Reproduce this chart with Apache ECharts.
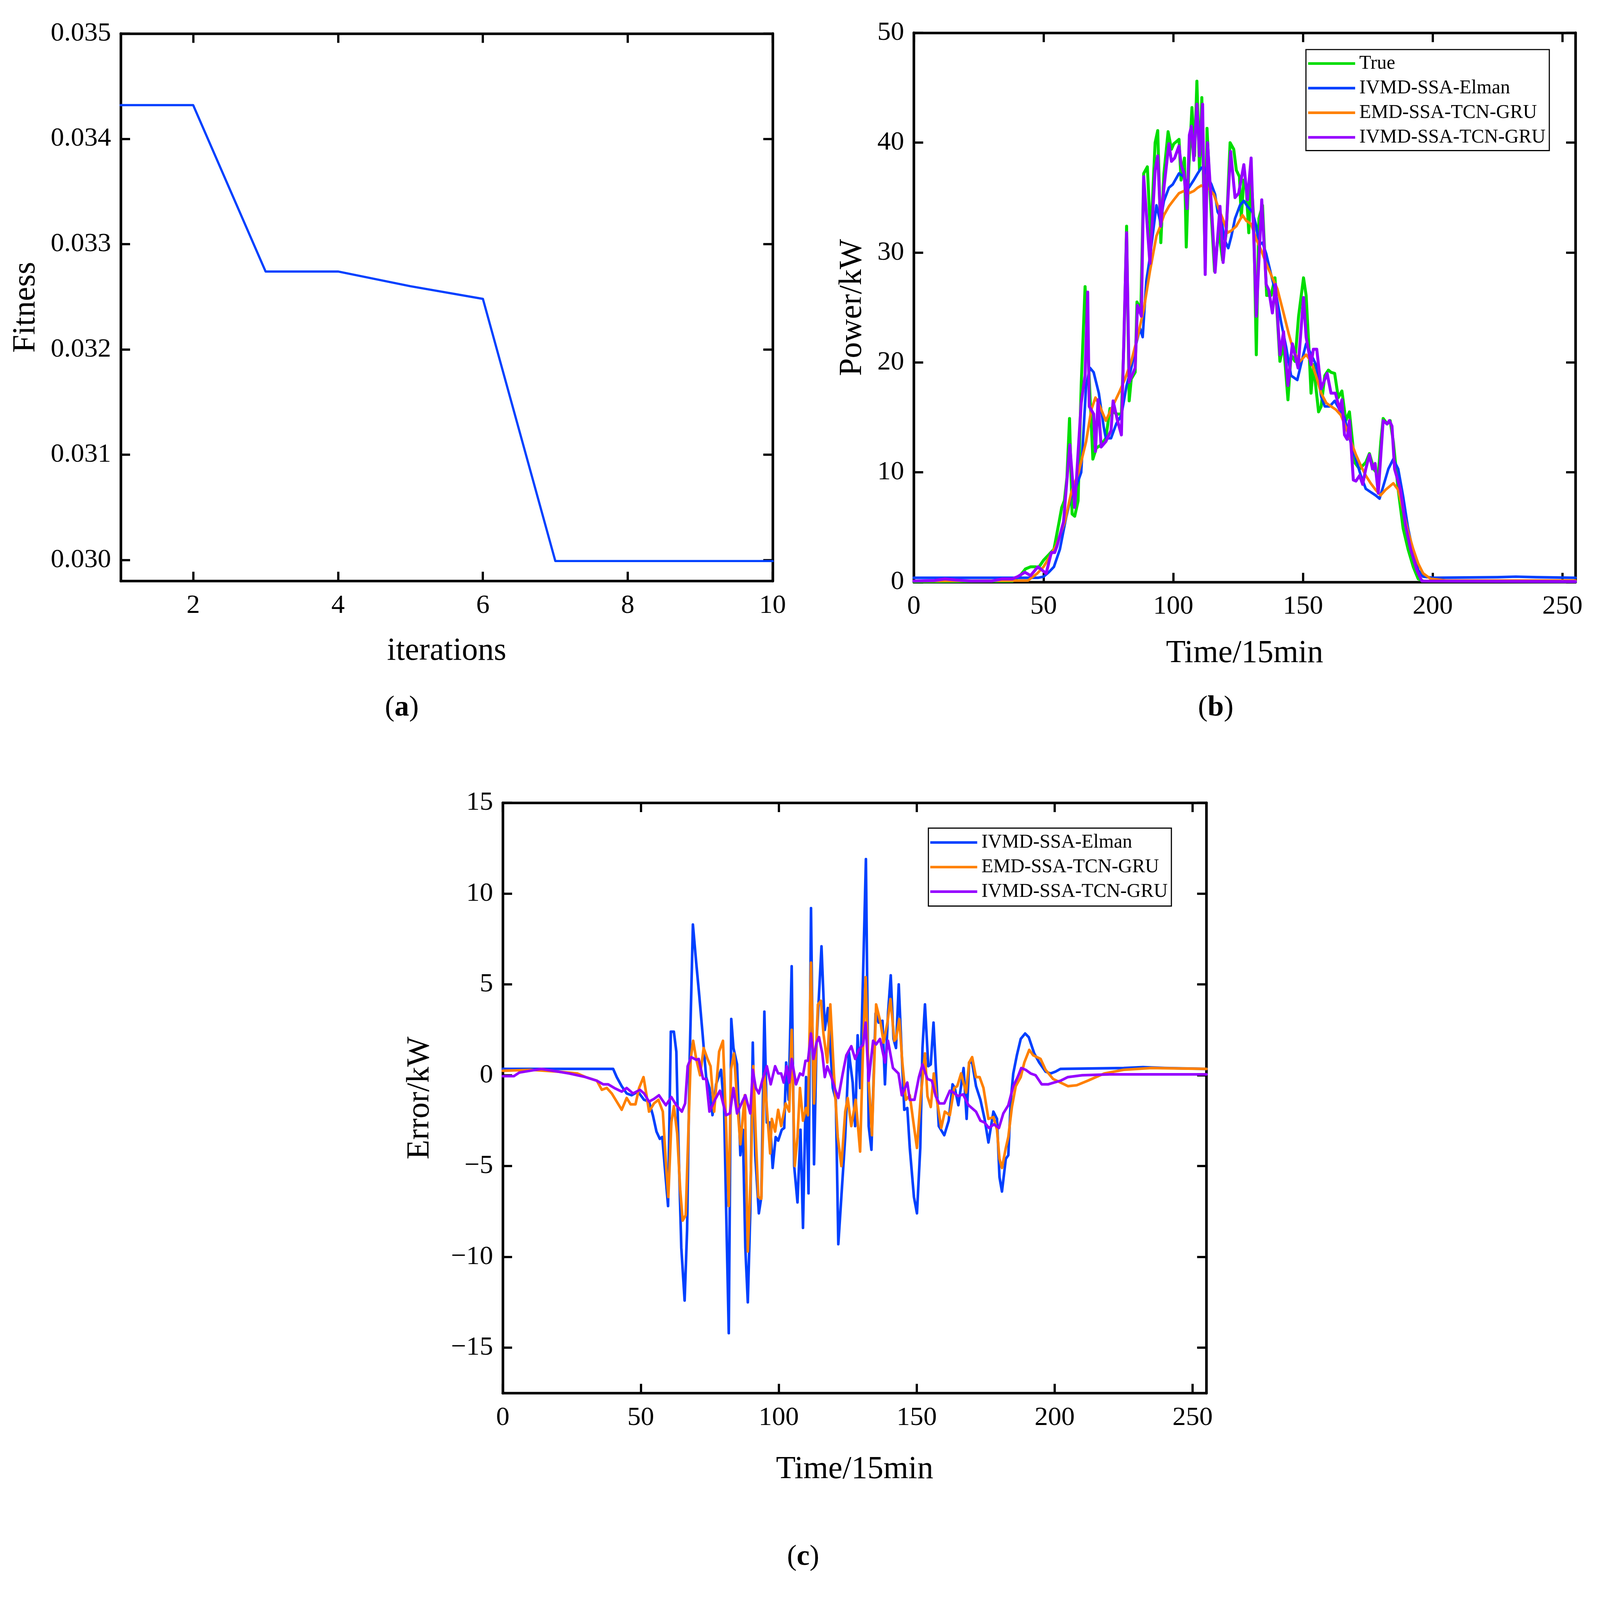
<!DOCTYPE html>
<html>
<head>
<meta charset="utf-8" />
<title>Fitness / Power / Error</title>
<script src="https://cdn.jsdelivr.net/npm/echarts@6/dist/echarts.min.js"></script>
<style type="text/css">
	html, body { margin: 0; padding: 0; background: #ffffff; overflow: hidden; }
	#chart { width: 4293px; height: 4239px; }
</style>
</head>
<body>
<div id="chart"></div>
<script type="text/javascript">
	// (a) fitness curve
	var iterations = [1, 2, 3, 4, 5, 6, 7, 8, 9, 10];
	var fitness = [0.03432, 0.03432, 0.03274, 0.03274, 0.03260, 0.03248, 0.02999, 0.02999, 0.02999, 0.02999];
	var fitnessTicks = [0.030, 0.031, 0.032, 0.033, 0.034, 0.035];
	var iterTicks = [2, 4, 6, 8, 10];

	// (b) power, [time, kW]
	var truePower = [[0,0.05],[38,0.1],[41,0.6],[43,1.2],[45,1.4],[47,1.4],[48,1.3],[50,2.0],[52,2.5],[54,3.0],[56,5.5],[57,6.8],[58,7.4],[59,9.5],[60,14.9],[61,6.2],[62,6.0],[63.3,7.4],[64.5,17.9],[66,26.9],[69,11.2],[70.3,12.2],[72.2,12.5],[74,13.1],[75.6,15.8],[78,15.3],[80,15.3],[81,22],[82,32.4],[83,16.5],[83.8,18.5],[85.3,19.1],[86,25.5],[87.5,24.8],[88.6,37.2],[90,37.8],[91.3,31.2],[93,40],[94,41.1],[95.2,30.9],[96.4,37.2],[98,41],[99.3,39.4],[100.2,39.9],[102.2,40.3],[103,36.6],[104.3,38.6],[105,30.5],[106,37.8],[107.2,43.2],[108.2,38.8],[109.1,45.6],[110.1,37.5],[111,44.1],[112.3,28.6],[113,41.3],[114.2,35.3],[115.9,28.3],[117.5,32.1],[119,29.3],[120.4,31.8],[121.9,40],[123.3,39.4],[124.3,37.5],[125.5,36.9],[126.2,33.2],[127.2,36.6],[128.1,35.9],[129.1,31.8],[130,36.9],[131,33.1],[132,20.7],[133,33.1],[134.4,34.3],[136,26.1],[137.7,26.1],[139.2,27.7],[141.1,20.1],[142.5,21.7],[144.2,16.6],[145.4,20.7],[146.9,20.1],[148.3,24.2],[150.2,27.7],[151.2,26.1],[152.2,21.7],[153.1,17.2],[154,19.8],[156,15.5],[157,16],[158.4,18.8],[159.8,19.3],[160.8,19.1],[162.2,19],[163.6,16.8],[165,17.4],[166.5,14.7],[167.9,15.5],[169.9,10.9],[171.8,10.3],[174.2,10.9],[175.6,11.7],[177.3,10.3],[179,9.7],[180,12.8],[180.9,14.9],[182.4,14.4],[183.6,14.7],[184.8,12.8],[186.7,8.4],[188.6,4.9],[190.5,3],[192.5,1.4],[194.4,0.3],[196.3,0.1],[255,0.05]];
	var elmanPower = [[0,0.4],[48,0.4],[50,0.5],[52,0.9],[54,1.4],[56.3,3],[58.7,5.9],[60.6,7.8],[62.6,8.7],[64.5,10],[66.4,17.9],[67.9,19.5],[69.3,19.1],[71.3,17.2],[73.2,14.1],[74,13.1],[76,13.1],[78,14.4],[80,15.2],[82,17.9],[83.8,19.5],[85.7,21.7],[87.2,23.1],[88.2,22.3],[89.6,27.4],[91,29.6],[93.5,34.3],[95,32.8],[96.4,34.7],[98.3,35.9],[99.8,36.2],[102.2,37.2],[104.1,36.9],[106,35.9],[107.9,36.6],[109.4,37.2],[110.8,37.7],[111.8,37.8],[113.2,36.9],[114.7,36.2],[116.1,35.3],[117.1,33.7],[118.5,33.1],[119.7,31.2],[121.2,30.4],[122.4,31.5],[123.8,33.1],[125.7,34.3],[127.2,34.7],[128.6,34.2],[130.5,33.7],[132,32.4],[133,30.7],[134.4,30.9],[135.8,29.9],[137.7,28],[139.7,26.1],[141.6,23.6],[143.5,21.4],[145.4,18.8],[147.8,18.4],[149.8,20.4],[151.2,21.7],[152.6,21],[155,19.8],[157,16.9],[158.4,16],[160.3,16],[162.2,16.5],[164.1,15.7],[166,15],[167.9,13.1],[170.4,11.2],[172.3,9.7],[174.2,8.5],[176.1,8.2],[178,7.9],[179.5,7.6],[180.9,8.7],[182.9,10.3],[184.8,11.2],[186.7,10.3],[188.6,7.8],[190.5,4.9],[192.5,2.7],[194.4,1.1],[196.3,0.5],[200,0.4],[225,0.45],[232,0.5],[240,0.45],[255,0.4]];
	var emdPower = [[0,0.1],[44,0.15],[47.6,0.8],[50,1.4],[54.8,3.3],[58.2,5.5],[60.6,8.1],[63.5,10],[66.4,12.8],[68.4,15.7],[70,16.8],[71.7,16],[74,14.7],[76.6,16],[79,17.2],[81.4,18.5],[83.8,20.1],[86.2,22.3],[88.6,24.8],[91,28.3],[93.5,31.5],[95,32.4],[96.4,33.4],[98.3,34.2],[100.2,34.8],[102.2,35.4],[104.1,35.6],[106,35.4],[107.9,35.6],[109.4,35.9],[110.8,36.1],[112.3,35.9],[113.7,35.8],[115.6,35.3],[117.5,34],[119.5,32.8],[120.9,31.8],[122.4,32],[124.3,32.4],[126.7,33.4],[128.1,32.9],[130,32.6],[132,31.2],[133.9,30.2],[135.8,29],[138.2,27.7],[140.1,26.7],[142.5,24.5],[144.5,22.6],[146.4,21],[148.8,20.1],[151.2,20.7],[153.1,20.1],[155,18.8],[157,17.2],[159,16.3],[160.8,16],[162.7,15.7],[164.6,15.2],[166.5,14.1],[168.5,12.8],[170.4,11.6],[172.3,10.6],[174.2,9.7],[176.1,9],[178,8.4],[179.9,7.9],[181.8,8.4],[184.8,9],[186.7,8.4],[188.6,6.5],[190.5,4.6],[192.5,3],[194.4,1.7],[196.3,0.8],[199.2,0.3],[205,0.15],[255,0.15]];
	var ivmdPower = [[0,0.1],[8,0.15],[12,0.3],[16,0.2],[22,0.1],[30,0.1],[34,0.3],[38,0.3],[40,0.5],[42.8,0.9],[45,0.6],[47.8,1.4],[51,0.8],[53,2.7],[54.3,2.7],[55.2,3.3],[57.7,5.5],[60.1,12.5],[62,6.8],[64.5,16.3],[66,18.8],[67,26.4],[67.6,16],[69.3,15.3],[70,11.9],[71,16.6],[72.2,12.3],[74,12.8],[76,13.8],[76.8,16.5],[78.5,14.7],[80,13.4],[82,31.8],[83,18.2],[85.3,19.5],[86.2,25.2],[87.7,24.2],[88.6,36.9],[91,29],[93,37.5],[94,38.8],[95.2,32.4],[96.4,35.9],[98.3,39.9],[99.3,38.3],[100.5,38.6],[102.2,39.7],[103,38],[104.1,37.2],[105.3,34],[106.2,40.7],[107,41.5],[107.9,38.4],[109.1,43.5],[110.1,38.8],[111.3,43.5],[112.3,28],[113.2,40],[114.7,34.3],[116.1,28.2],[118,34.2],[119.2,29.1],[120.4,32.1],[122.1,39.2],[123.8,35],[125.2,35.4],[127.2,38],[128.6,34.8],[130,38.6],[131,31.5],[132,24.2],[134.1,34.8],[135.8,27.1],[136.8,26.6],[138.2,24.5],[139.4,27.1],[141.1,20.7],[142.5,22.8],[144.2,17.9],[145.9,21.7],[148.1,19.5],[150.2,25.9],[151.2,22.3],[153.1,19.8],[154,21.2],[155.3,21.2],[157,17.6],[159.3,19],[160.8,17.2],[162.5,17.2],[164.1,15.7],[165,16.6],[166,13.4],[167,13],[167.9,14.7],[169.4,9.3],[170.4,9.2],[171.8,9.7],[173,8.9],[174.2,10.3],[175.6,11.6],[176.8,10.3],[177.8,10.8],[179,8.1],[180.9,14.7],[182.4,14.4],[183.3,14.7],[184.3,14.2],[185.3,10.3],[187.6,8.4],[189.5,5.2],[191.5,3],[193.9,1.1],[195.8,0.1],[255,0.05]];
	var powerTicks = [0, 10, 20, 30, 40, 50];
	var timeTicks = [0, 50, 100, 150, 200, 250];

	// (c) error, [time, kW]
	var elmanError = [[0,0.35],[40,0.35],[41.3,-0.1],[43.1,-0.6],[44.9,-1.0],[46.7,-1.1],[49,-0.9],[51.2,-1.35],[53,-1.45],[54.4,-2.2],[55.7,-3.1],[56.9,-3.5],[57.8,-3.4],[58.9,-5.4],[59.9,-7.2],[60.9,2.4],[62,2.4],[62.9,1.3],[63.6,-3.4],[64.7,-9.5],[65.9,-12.4],[66.8,-8.5],[67.7,0.7],[68.9,8.3],[70.1,6.2],[71.2,4.4],[72.4,2.3],[73.7,-0.1],[74.9,-0.7],[76,-2.2],[77.3,-0.5],[79.1,0.3],[80.2,-1.8],[81.1,-8.5],[81.9,-14.2],[82.8,3.1],[83.6,1.5],[84.9,0.6],[86.1,-4.4],[87,-3.0],[87.9,-9.5],[88.8,-12.5],[89.7,-7.5],[90.6,1.8],[91.5,-4.4],[92.8,-7.6],[93.7,-6.7],[94.8,3.5],[95.7,-2.6],[96.9,-2.6],[97.8,-5.1],[98.9,-3.4],[99.8,-3.6],[101.1,-3.0],[102,-2.9],[102.7,0.7],[103.6,-1.35],[104.7,6.0],[105.6,-5.0],[106.8,-7.0],[107.9,-3.0],[108.8,-8.4],[109.9,-0.1],[110.8,-6.5],[111.7,9.2],[112.8,-4.9],[113.7,1.8],[115.5,7.1],[116.7,2.5],[117.8,3.7],[119.6,-0.7],[120.7,-1.35],[121.6,-9.3],[122.7,-6.7],[124.1,-3.4],[125.4,1.3],[126.8,-0.4],[127.7,-2.8],[128.6,2.2],[129.5,-0.7],[130.6,5.7],[131.6,11.9],[132.6,-2.8],[133.6,-4.1],[135.1,3.4],[136.2,2.9],[137.6,3.0],[138.5,-0.5],[139.6,3.4],[140.6,5.5],[141.6,2.0],[142.5,1.5],[143.5,5.0],[144.6,1.1],[145.5,-1.9],[146.6,-1.8],[147.5,-4.0],[149,-6.7],[150.1,-7.6],[151.3,-4.0],[152.1,1.5],[153,3.9],[154.2,0.5],[155.1,0.6],[156.1,2.9],[157.1,-0.1],[158,-2.8],[160,-3.3],[161.6,-2.5],[163,-0.5],[163.8,-0.7],[165.1,-1.65],[167,0.4],[168.1,-2.4],[169,0.7],[170.1,0.7],[171.5,-0.6],[173.1,-1.35],[174.6,-2.4],[176,-3.7],[177.8,-2.0],[179.1,-2.4],[180,-5.6],[180.9,-6.4],[182.3,-4.6],[183.2,-4.4],[184.1,-1.35],[185,0.1],[186.3,1.1],[187.7,2.0],[189.3,2.3],[190.6,2.1],[192.6,1.2],[194.4,0.7],[196.7,0.2],[198.5,0.1],[200.3,0.2],[202.1,0.35],[225,0.4],[232,0.45],[240,0.4],[255,0.35]];
	var emdError = [[0,0.25],[10,0.3],[20,0.2],[27,0.1],[30,-0.1],[34.1,-0.3],[35.9,-0.8],[37.7,-0.7],[39.5,-1.0],[41.3,-1.45],[43.1,-1.9],[44.9,-1.25],[46.3,-1.6],[48.1,-1.6],[49.4,-0.7],[51,-0.1],[52.1,-1.1],[53,-2.0],[54.8,-1.55],[56.4,-1.35],[58,-2.0],[59.1,-4.8],[60,-6.7],[61.1,-2.6],[62,-1.7],[63.2,-3.2],[64.3,-6.3],[65.2,-8.0],[66.3,-7.7],[67.2,-3.4],[68.1,0.9],[69,1.9],[70.1,0.9],[71.5,0],[72.8,1.5],[74.2,0.9],[75.3,0.5],[76.6,-2.0],[78.4,1.3],[79.8,1.9],[80.9,-2.6],[81.9,-7.2],[82.7,0.3],[83.8,1.2],[84.9,-1.35],[86.1,-3.8],[87.7,-1.1],[88.8,-9.7],[89.9,-5.4],[90.8,0.5],[91.7,-3.4],[92.6,-6.7],[93.7,-6.8],[94.8,0.1],[95.7,-1.8],[96.9,-4.3],[97.5,-2.4],[98.7,-3.1],[99.8,-1.9],[100.9,-2.8],[102.5,-1.55],[103.8,-2.0],[104.7,2.5],[105.8,-5.0],[106.8,-3.4],[107.7,-0.7],[108.8,-2.5],[109.9,-1.8],[110.6,-2.2],[111.7,6.2],[112.8,-1.55],[114.2,3.9],[115.3,4.1],[116.2,2.3],[117.6,0.7],[118.7,3.9],[120,0.1],[121.4,-3.4],[122.7,-5.0],[124.1,-2.0],[125,-1.25],[126.3,-2.8],[127.9,-1.35],[129.5,-4.2],[130.4,0.7],[131.5,5.4],[132.6,-0.3],[133.8,-3.3],[135.3,3.9],[136.9,2.9],[138,1.8],[139.4,2.9],[140.5,4.2],[141.9,1.9],[142.5,2.0],[143.7,3.1],[144.8,0.7],[146.1,-1.35],[147.5,-1.1],[149,-2.8],[150.1,-4.0],[151.5,-1.15],[153,1.2],[153.9,-1.15],[155.1,-1.75],[156.2,0.1],[157.3,-1.35],[158.9,-2.9],[160.2,-2.0],[162,-2.2],[163.6,-0.7],[164.7,-0.6],[166.1,0.1],[167.9,-0.95],[169,0.7],[170.1,1.0],[171.5,-0.1],[172.8,-0.1],[174.2,-0.7],[176,-2.4],[177.8,-2.3],[179.1,-3.0],[180,-4.6],[180.9,-5.1],[182.3,-4.0],[183.2,-3.4],[184.5,-1.75],[185.9,-0.6],[187.7,-0.1],[189,0.7],[190.8,1.4],[192.2,1.1],[194.9,0.9],[196.7,0.3],[199.4,-0.2],[202.1,-0.4],[204.8,-0.6],[208,-0.55],[212,-0.3],[218,0.1],[225,0.3],[235,0.4],[255,0.35]];
	var ivmdError = [[0,-0.05],[4,-0.05],[6,0.15],[10,0.25],[14,0.35],[18,0.25],[24,0.1],[30,-0.1],[34.1,-0.3],[36.4,-0.5],[38.2,-0.5],[40.4,-0.7],[43.1,-0.9],[44.9,-0.7],[47.2,-1.0],[49.7,-0.8],[51.2,-1.0],[53,-1.45],[54.8,-1.3],[56.6,-1.1],[59.1,-1.65],[61.1,-1.2],[62.9,-1.65],[64.9,-2.0],[66.1,-1.55],[67,0.5],[68.3,1.0],[70.1,0.85],[71,0.9],[72.6,-0.2],[73.7,-0.2],[74.9,-2.0],[76.9,-1.35],[78.7,-0.85],[80.9,-2.2],[82.3,-2.1],[83.6,-0.7],[84.9,-2.1],[86.8,-1.45],[87.9,-1.1],[89.7,-2.1],[90.6,0.3],[91.7,-0.7],[92.8,-1.0],[94.2,-0.2],[95.7,0.5],[97.1,-0.5],[98.7,0.5],[99.8,0.1],[100.9,0.1],[101.8,-0.4],[102.9,0.5],[103.8,-0.4],[104.7,0.9],[106.3,-0.5],[107.7,0.1],[108.8,0],[109.7,0.8],[110.6,0.8],[111.7,2.3],[112.6,0.9],[113.7,1.8],[114.6,2.1],[115.8,1.2],[116.7,-0.1],[117.6,0.5],[119.1,-0.1],[120.5,-0.8],[121.6,-1.25],[123.2,0.1],[124.5,1.1],[126.3,1.6],[127.7,0.9],[129,1.4],[130.6,1.7],[131.5,2.9],[132.6,-0.3],[134.2,1.9],[135.3,1.7],[136.7,2.0],[138.5,0.7],[139.6,1.9],[141.4,0.4],[143.4,0.1],[144.6,-1.1],[146.6,-0.4],[147.5,-1.35],[149.2,-1.35],[150.8,-0.1],[152.1,0.6],[153.9,-0.2],[155.5,-0.3],[156.9,-1.15],[158.2,-1.55],[160,-1.55],[162,-0.85],[163.4,-0.95],[165,-1.15],[166.8,-1.05],[168.8,-1.65],[171.5,-2.0],[173.1,-2.5],[174.6,-2.6],[176.2,-2.9],[178,-2.7],[179.8,-2.9],[181.4,-2.1],[183.2,-1.65],[185,-0.6],[186.6,-0.1],[187.9,0.4],[189.5,0.3],[191.3,0.1],[193.1,0],[195.3,-0.5],[197.6,-0.5],[199.8,-0.4],[202.1,-0.3],[204.8,-0.1],[210,0],[220,0.05],[255,0.05]];
	var errorTicks = [-15, -10, -5, 0, 5, 10, 15];

	var FONT = "'Liberation Serif', 'Times New Roman', serif";
	var GREEN = '#00dd00', BLUE = '#0040ff', ORANGE = '#ff8000', PURPLE = '#9600ff';

	// the layout below is measured on a 4293 px wide figure; scale it to the real viewport
	var W = window.innerWidth || document.documentElement.clientWidth || 4293;
	var H = window.innerHeight || document.documentElement.clientHeight || 4239;
	var S = Math.min(W / 4293, H / 4239);
	function px(v) {
		return v * S;
	}

	var box = document.getElementById('chart');
	box.style.width = px(4293) + 'px';
	box.style.height = px(4239) + 'px';

	// one axis of a boxed frame; ticks point inward on all four sides
	function frameAxis(gridIndex, position, min, max, ticks, withLabels, labelFmt, name, nameGap) {
		var vertical = (position == 'left' || position == 'right');
		return {
			type: 'value',
			gridIndex: gridIndex,
			position: position,
			min: min,
			max: max,
			name: withLabels ? name : '',
			nameLocation: 'middle',
			nameGap: px(nameGap || 0),
			nameRotate: vertical ? 90 : 0,
			nameTextStyle: { fontFamily: FONT, fontSize: px(86), color: '#000' },
			axisLine: { show: true, onZero: false, lineStyle: { color: '#000', width: px(7) } },
			axisTick: { show: true, inside: true, length: px(25), customValues: ticks, lineStyle: { color: '#000', width: px(6) } },
			axisLabel: {
				show: withLabels,
				customValues: ticks,
				margin: px(vertical ? 26 : 30),
				fontFamily: FONT,
				fontSize: px(72),
				color: '#000',
				formatter: labelFmt
			},
			splitLine: { show: false }
		};
	}

	function minusFmt(v) {
		return v < 0 ? '\u2212' + Math.abs(v) : String(v);
	}
	function fitFmt(v) {
		return v.toFixed(3);
	}
	function intFmt(v) {
		return String(v);
	}

	function lineSeries(name, color, x, y, data, width) {
		return {
			name: name,
			type: 'line',
			xAxisIndex: x,
			yAxisIndex: y,
			data: data,
			symbol: 'none',
			showSymbol: false,
			smooth: false,
			lineStyle: { color: color, width: px(width), join: 'round', cap: 'round' },
			itemStyle: { color: color }
		};
	}

	function panelLabel(letter, x, y) {
		return {
			type: 'text', x: px(x), y: px(y),
			style: {
				text: '{p|(}{b|' + letter + '}{p|)}',
				align: 'center', verticalAlign: 'middle',
				rich: {
					p: { fontFamily: FONT, fontSize: px(78), fill: '#000' },
					b: { fontFamily: FONT, fontSize: px(78), fontWeight: 'bold', fill: '#000' }
				}
			}
		};
	}

	function legendBox(left, top, names, padding) {
		return {
			left: px(left), top: px(top), orient: 'vertical',
			data: names,
			icon: 'rect',
			itemWidth: px(126), itemHeight: px(7), itemGap: px(11),
			padding: padding.map(px),
			borderColor: '#000', borderWidth: px(3),
			selectedMode: false,
			textStyle: { fontFamily: FONT, fontSize: px(52), color: '#000', lineHeight: px(55), padding: [0, 0, 0, px(6)] }
		};
	}

	var fitnessPairs = iterations.map(function (it, i) { return [it, fitness[i]]; });

	var option = {
		backgroundColor: '#ffffff',
		animation: false,
		grid: [
			{ left: px(324), top: px(90), width: px(1749), height: px(1469) },
			{ left: px(2452), top: px(88), width: px(1775), height: px(1474) },
			{ left: px(1349), top: px(2154), width: px(1888), height: px(1584) }
		],
		xAxis: [
			frameAxis(0, 'bottom', 1, 10, iterTicks, true, intFmt, 'iterations', 146),
			frameAxis(0, 'top', 1, 10, iterTicks, false),
			frameAxis(1, 'bottom', 0, 255, timeTicks, true, intFmt, 'Time/15min', 149),
			frameAxis(1, 'top', 0, 255, timeTicks, false),
			frameAxis(2, 'bottom', 0, 255, timeTicks, true, intFmt, 'Time/15min', 162),
			frameAxis(2, 'top', 0, 255, timeTicks, false)
		],
		yAxis: [
			frameAxis(0, 'left', 0.0298, 0.035, fitnessTicks, true, fitFmt, 'Fitness', 211),
			frameAxis(0, 'right', 0.0298, 0.035, fitnessTicks, false),
			frameAxis(1, 'left', 0, 50, powerTicks, true, intFmt, 'Power/kW', 122),
			frameAxis(1, 'right', 0, 50, powerTicks, false),
			frameAxis(2, 'left', -17.5, 15, errorTicks, true, minusFmt, 'Error/kW', 179),
			frameAxis(2, 'right', -17.5, 15, errorTicks, false)
		],
		legend: [
			legendBox(3504, 133, ['True', 'IVMD-SSA-Elman', 'EMD-SSA-TCN-GRU', 'IVMD-SSA-TCN-GRU'], [10, 10, 8, 6]),
			legendBox(2491, 2222, ['IVMD-SSA-Elman', 'EMD-SSA-TCN-GRU', 'IVMD-SSA-TCN-GRU'], [11, 10, 11, 5])
		],
		graphic: [
			panelLabel('a', 1078, 1900),
			panelLabel('b', 3262, 1900),
			panelLabel('c', 2155, 4178)
		],
		series: [
			lineSeries('Fitness', BLUE, 0, 0, fitnessPairs, 6),
			lineSeries('True', GREEN, 2, 2, truePower, 8),
			lineSeries('IVMD-SSA-Elman', BLUE, 2, 2, elmanPower, 7),
			lineSeries('EMD-SSA-TCN-GRU', ORANGE, 2, 2, emdPower, 7),
			lineSeries('IVMD-SSA-TCN-GRU', PURPLE, 2, 2, ivmdPower, 8),
			lineSeries('IVMD-SSA-Elman', BLUE, 4, 4, elmanError, 7),
			lineSeries('EMD-SSA-TCN-GRU', ORANGE, 4, 4, emdError, 7),
			lineSeries('IVMD-SSA-TCN-GRU', PURPLE, 4, 4, ivmdError, 7)
		]
	};

	var chart = echarts.init(box);
	chart.setOption(option);
</script>
</body>
</html>
